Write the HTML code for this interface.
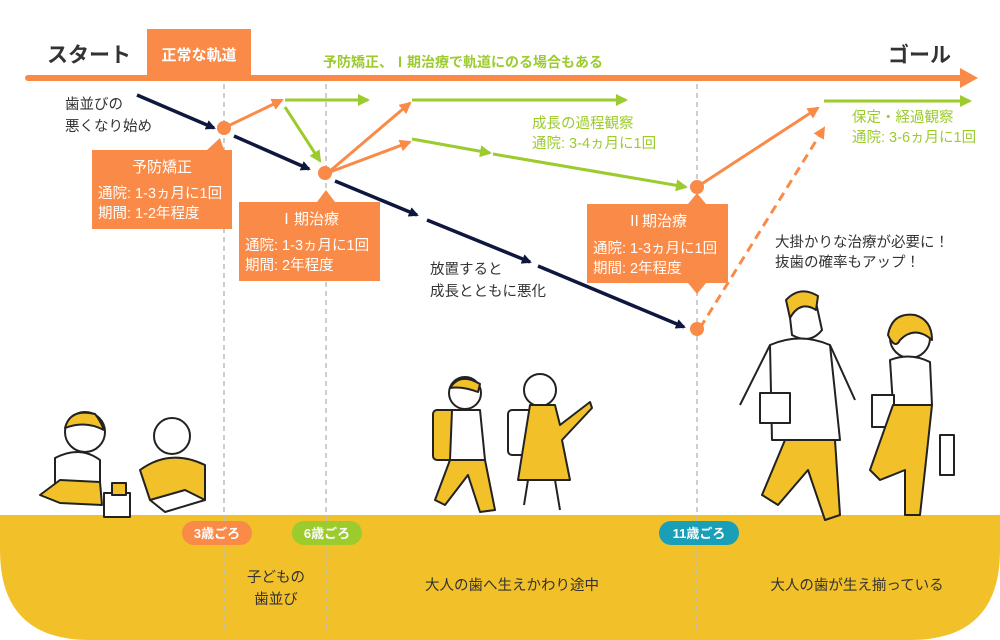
<!DOCTYPE html>
<html><head><meta charset="utf-8"><style>
html,body{margin:0;padding:0;background:#fff;}
svg{display:block;font-family:"Liberation Sans","Noto Sans CJK JP",sans-serif;}
</style></head><body>
<svg width="1000" height="640" viewBox="0 0 1000 640" xmlns="http://www.w3.org/2000/svg">
<defs>
<marker id="an" markerWidth="10" markerHeight="10" refX="8" refY="5" orient="auto" markerUnits="userSpaceOnUse"><path d="M0,0 L10,5 L0,10 z" fill="#10173f"/></marker>
<marker id="ao" markerWidth="12" markerHeight="12" refX="10" refY="6" orient="auto" markerUnits="userSpaceOnUse"><path d="M0,0 L12,6 L0,12 z" fill="#f98a47"/></marker>
<marker id="ag" markerWidth="12" markerHeight="12" refX="10" refY="6" orient="auto" markerUnits="userSpaceOnUse"><path d="M0,0 L12,6 L0,12 z" fill="#9ccb2e"/></marker>
</defs>
<path d="M0,515 H1000 V550 Q1000,640 910,640 H90 Q0,640 0,550 Z" fill="#f2c029"/>
<g stroke="#bdbdbd" stroke-width="1.5" stroke-dasharray="5,4">
<line x1="224" y1="84" x2="224" y2="630"/><line x1="326" y1="84" x2="326" y2="630"/><line x1="697" y1="84" x2="697" y2="630"/>
</g>
<line x1="28" y1="78" x2="960" y2="78" stroke="#f98a47" stroke-width="6" stroke-linecap="round"/>
<path d="M960,68 L978,78 L960,88 z" fill="#f98a47"/>
<rect x="147" y="29" width="104" height="50" fill="#f98a47"/>
<text x="199" y="60" font-size="15" font-weight="bold" fill="#fff" text-anchor="middle">正常な軌道</text>
<text x="47" y="62" font-size="21" font-weight="bold" fill="#333">スタート</text>
<text x="888" y="62" font-size="21" font-weight="bold" fill="#333">ゴール</text>
<text x="323" y="67" font-size="14" font-weight="bold" fill="#9ccb2e">予防矯正、Ⅰ期治療で軌道にのる場合もある</text>
<g stroke="#10173f" stroke-width="3.5" fill="none">
<line x1="137" y1="95" x2="214" y2="128" marker-end="url(#an)"/>
<line x1="234" y1="136" x2="309" y2="169" marker-end="url(#an)"/>
<line x1="335" y1="181" x2="417" y2="215" marker-end="url(#an)"/>
<line x1="427" y1="220" x2="530" y2="262" marker-end="url(#an)"/>
<line x1="538" y1="266" x2="684" y2="327" marker-end="url(#an)"/>
</g>
<g stroke="#f98a47" stroke-width="3" fill="none">
<line x1="228" y1="126" x2="282" y2="100" marker-end="url(#ao)"/>
<line x1="330" y1="171" x2="410" y2="103" marker-end="url(#ao)"/>
<line x1="330" y1="172" x2="410" y2="142" marker-end="url(#ao)"/>
<line x1="700" y1="185" x2="818" y2="108" marker-end="url(#ao)"/>
<line x1="700" y1="328" x2="824" y2="128" stroke-dasharray="9,6" marker-end="url(#ao)"/>
</g>
<g stroke="#9ccb2e" stroke-width="3" fill="none">
<line x1="285" y1="100" x2="368" y2="100" marker-end="url(#ag)"/>
<line x1="285" y1="107" x2="320" y2="161" marker-end="url(#ag)"/>
<line x1="412" y1="100" x2="626" y2="100" marker-end="url(#ag)"/>
<line x1="412" y1="139" x2="490" y2="153" marker-end="url(#ag)"/>
<line x1="493" y1="154" x2="686" y2="187" marker-end="url(#ag)"/>
<line x1="824" y1="101" x2="970" y2="101" marker-end="url(#ag)"/>
</g>
<g fill="#f98a47">
<circle cx="224" cy="128" r="7"/><circle cx="325" cy="173" r="7"/><circle cx="697" cy="187" r="7"/><circle cx="697" cy="329" r="7"/>
</g>
<g fill="#f98a47">
<rect x="92" y="150" width="140" height="79"/><path d="M207,150 L220,138 L224,150z"/>
<rect x="239" y="202" width="141" height="79"/><path d="M317,202 L326,190 L335,202z"/>
<rect x="587" y="204" width="141" height="79"/><path d="M688,204 L697,193 L706,204z"/><path d="M688,283 L697,294 L706,283z"/>
</g>
<g fill="#fff" font-size="14.5">
<text x="162" y="172" text-anchor="middle" font-size="15">予防矯正</text>
<text x="98" y="198">通院: 1-3ヵ月に1回</text><text x="98" y="218">期間: 1-2年程度</text>
<text x="309" y="224" text-anchor="middle" font-size="15">Ⅰ期治療</text>
<text x="245" y="250">通院: 1-3ヵ月に1回</text><text x="245" y="270">期間: 2年程度</text>
<text x="657" y="226" text-anchor="middle" font-size="15">Ⅱ期治療</text>
<text x="593" y="253">通院: 1-3ヵ月に1回</text><text x="593" y="273">期間: 2年程度</text>
</g>
<g font-size="14.5" fill="#9ccb2e">
<text x="532" y="128">成長の過程観察</text><text x="532" y="148">通院: 3-4ヵ月に1回</text>
<text x="852" y="122">保定・経過観察</text><text x="852" y="142">通院: 3-6ヵ月に1回</text>
</g>
<g font-size="14.5" fill="#333">
<text x="65" y="109">歯並びの</text><text x="65" y="131">悪くなり始め</text>
<text x="430" y="274">放置すると</text><text x="430" y="296">成長とともに悪化</text>
<text x="775" y="247">大掛かりな治療が必要に！</text><text x="775" y="267">抜歯の確率もアップ！</text>
</g>
<rect x="182" y="521" width="70" height="24" rx="12" fill="#f98a47"/>
<text x="217" y="538" font-size="13" font-weight="bold" fill="#fff" text-anchor="middle">3歳ごろ</text>
<rect x="292" y="521" width="70" height="24" rx="12" fill="#9ccb2e"/>
<text x="327" y="538" font-size="13" font-weight="bold" fill="#fff" text-anchor="middle">6歳ごろ</text>
<rect x="659" y="521" width="80" height="24" rx="12" fill="#1a9fb8"/>
<text x="699" y="538" font-size="13" font-weight="bold" fill="#fff" text-anchor="middle">11歳ごろ</text>
<g font-size="14.5" fill="#333" text-anchor="middle">
<text x="276" y="582">子どもの</text><text x="276" y="604">歯並び</text>
<text x="512" y="590">大人の歯へ生えかわり途中</text>
<text x="857" y="590">大人の歯が生え揃っている</text>
</g>
<g stroke="#222" stroke-width="2" stroke-linejoin="round">
<circle cx="85" cy="432" r="20" fill="#fff"/><path d="M65,428 Q70,408 95,414 Q100,420 104,430 Q85,420 65,428z" fill="#f2c029"/>
<path d="M55,458 Q80,445 100,460 L100,495 L55,495z" fill="#fff"/>
<path d="M40,495 L60,480 L100,482 L102,505 L60,503z" fill="#f2c029"/>
<rect x="104" y="493" width="26" height="24" fill="#fff"/><rect x="112" y="483" width="14" height="12" fill="#f2c029"/>
<circle cx="172" cy="436" r="18" fill="#fff"/>
<path d="M140,470 Q170,448 205,465 L205,500 L150,500z" fill="#f2c029"/>
<path d="M150,500 L185,490 L205,500 L165,512z" fill="#fff"/>
<circle cx="465" cy="393" r="16" fill="#fff"/><path d="M450,388 Q460,372 480,384 L478,392 Q462,386 450,388z" fill="#f2c029"/>
<rect x="433" y="410" width="25" height="50" rx="4" fill="#f2c029"/>
<path d="M452,410 L480,410 L485,460 L450,460z" fill="#fff"/>
<path d="M450,460 L485,460 L495,510 L480,512 L468,475 L445,505 L435,500z" fill="#f2c029"/>
<circle cx="540" cy="390" r="16" fill="#fff"/>
<rect x="508" y="410" width="25" height="45" rx="4" fill="#fff"/>
<path d="M530,405 L555,405 L560,425 L590,402 L592,408 L562,440 L570,480 L518,480z" fill="#f2c029"/>
<path d="M528,480 L524,505 M555,480 L560,510" fill="none"/>
<path d="M788,300 Q800,290 815,298 L822,330 Q810,345 792,335z" fill="#fff"/><path d="M786,300 Q800,285 818,296 L816,310 Q800,300 790,318z" fill="#f2c029"/>
<path d="M770,345 Q800,332 830,345 L840,440 L772,440z" fill="#fff"/>
<path d="M770,345 L740,405 M830,345 L855,400" fill="none"/>
<rect x="760" y="393" width="30" height="30" fill="#fff"/>
<path d="M785,440 L835,440 L840,515 L825,520 L808,470 L778,505 L762,495z" fill="#f2c029"/>
<circle cx="910" cy="338" r="20" fill="#fff"/><path d="M888,335 Q892,312 915,315 Q932,320 932,340 Q915,325 900,340 Q895,350 888,335z" fill="#f2c029"/>
<path d="M890,360 Q910,352 930,362 L932,405 L893,405z" fill="#fff"/>
<rect x="872" y="395" width="22" height="32" fill="#fff"/>
<path d="M893,405 L932,405 L925,470 L920,515 L905,515 L905,470 L880,480 L870,470z" fill="#f2c029"/>
<rect x="940" y="435" width="14" height="40" fill="#fff"/>
</g>
</svg>
</body></html>
